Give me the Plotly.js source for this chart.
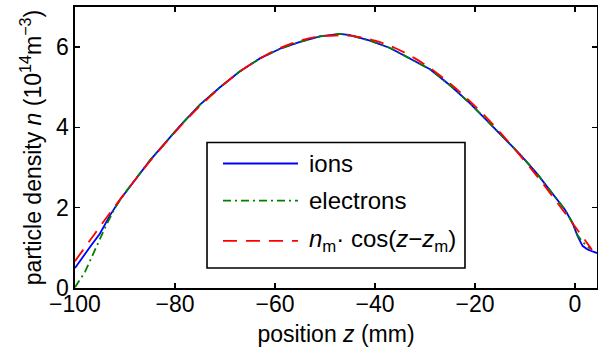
<!DOCTYPE html>
<html>
<head>
<meta charset="utf-8">
<script src="https://cdn.plot.ly/plotly-3.0.1.min.js"></script>
<style>html,body{margin:0;padding:0;background:#fff;}#chart{width:598px;height:351px;}</style>
</head>
<body>
<div id="chart"></div>
<script>
// position z (mm) and particle density n (10^14 m^-3)
const ionsZ = [-100,-99,-97,-95,-93,-91,-88,-85,-82,-79,-75,-71,-67,-63,-59,-55,-51,-47,-45,-41,-37,-33,-29,-25,-21,-17.6,-14.4,-11,-7.6,-4.4,-2,-0.5,0.5,1.5,2.5,3.5,4.4];
const ionsN = [0.50,0.68,1.02,1.36,1.81,2.20,2.70,3.18,3.61,4.04,4.57,5.00,5.40,5.72,5.96,6.13,6.27,6.33,6.30,6.16,5.98,5.72,5.45,5.05,4.60,4.17,3.75,3.33,2.85,2.33,1.95,1.62,1.30,1.05,0.96,0.91,0.87];

const electronsZ = [-100,-98,-96,-94,-92,-90,-88,-85,-82,-79,-75,-71,-67,-63,-59,-55,-51,-47,-45,-41,-37,-33,-29,-25,-21,-17.6,-14.4,-11,-7.6,-4.4,-2,-0.5,0.5,1.5,2.5,3.0];
const electronsN = [0.02,0.40,0.95,1.50,2.00,2.37,2.70,3.18,3.61,4.04,4.57,5.00,5.40,5.72,5.96,6.13,6.27,6.33,6.30,6.16,5.98,5.72,5.45,5.05,4.60,4.17,3.75,3.33,2.85,2.33,1.95,1.62,1.32,1.15,1.02,0.98];

const fitZ = [-100,-96,-92,-88,-84,-80,-76,-72,-68,-64,-60,-56,-52,-48,-44,-40,-36,-32,-28,-24,-20,-16,-12,-8,-4,0,3.4];
const fitN = [0.67,1.36,2.04,2.69,3.31,3.88,4.41,4.88,5.30,5.64,5.92,6.12,6.25,6.29,6.27,6.16,5.98,5.72,5.39,4.99,4.53,4.02,3.45,2.85,2.20,1.53,0.95];

const xTicks = [-100,-80,-60,-40,-20,0];
const yTicks = [0,2,4,6];
const legendLabels = ['ions','electrons','<i>n</i><sub>m</sub>· cos(<i>z</i>−<i>z</i><sub>m</sub>)'];

const FONT = '"Liberation Sans", Arial, Helvetica, sans-serif';
const colors = ['#0000ff','#008000','#ff0000'];
const dashes = ['solid','8px,4px,2px,4px','14px,9px'];

const traces = [
  {x: ionsZ, y: ionsN, mode:'lines', line:{color:colors[0], width:1.8, dash:dashes[0]}, name:legendLabels[0]},
  {x: electronsZ, y: electronsN, mode:'lines', line:{color:colors[1], width:1.8, dash:dashes[1]}, name:legendLabels[1]},
  {x: fitZ, y: fitN, mode:'lines', line:{color:colors[2], width:1.8, dash:dashes[2], shape:'spline'}, name:legendLabels[2]}
];

// manual legend box (paper coords)
const lx0 = 0.2529, lx1 = 0.7471, ly0 = 0.071, ly1 = 0.518;
const sx0 = 0.2835, sx1 = 0.4272, tx = 0.4444;
const rowY = [0.443, 0.311, 0.168];
const shapes = [{type:'rect', xref:'paper', yref:'paper', x0:lx0, x1:lx1, y0:ly0, y1:ly1, line:{color:'#000', width:1.6}, fillcolor:'#fff', layer:'above'}];
const annotations = [];
for (let i=0;i<3;i++){
  shapes.push({type:'line', xref:'paper', yref:'paper', x0:sx0, x1:sx1, y0:rowY[i], y1:rowY[i], line:{color:colors[i], width:1.8, dash:dashes[i]}, layer:'above'});
  annotations.push({xref:'paper', yref:'paper', x:tx, y:rowY[i], xanchor:'left', yanchor:'middle', text:legendLabels[i], showarrow:false, font:{family:FONT, size:24, color:'#000'}});
}

const layout = {
  width:598, height:351, autosize:false,
  margin:{l:75, r:1, t:7, b:63, pad:0},
  paper_bgcolor:'#fff', plot_bgcolor:'#fff',
  showlegend:false,
  font:{family:FONT, size:23, color:'#000'},
  xaxis:{range:[-100,4.4], tickvals:xTicks, ticks:'inside', ticklen:5, tickwidth:1.5, tickcolor:'#000',
         showline:true, linewidth:1.6, linecolor:'#000', mirror:'ticks', showgrid:false, zeroline:false,
         ticklabelstandoff:-5,
         tickfont:{size:23}, title:{text:'position <i>z</i> (mm)', font:{size:23}, standoff:9}},
  yaxis:{range:[0,7], tickvals:yTicks, ticks:'inside', ticklen:5, tickwidth:1.5, tickcolor:'#000',
         showline:true, linewidth:1.6, linecolor:'#000', mirror:'ticks', showgrid:false, zeroline:false,
         tickfont:{size:23}, title:{text:'particle density <i>n</i> (10<sup>14</sup>m<sup>−3</sup>)', font:{size:23}, standoff:8}},
  shapes:shapes, annotations:annotations
};

Plotly.newPlot('chart', traces, layout, {displayModeBar:false, staticPlot:true});
</script>
</body>
</html>
